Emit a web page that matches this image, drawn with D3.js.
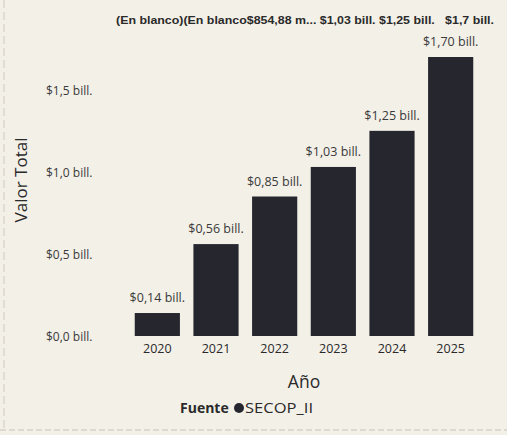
<!DOCTYPE html>
<html><head><meta charset="utf-8">
<script src="https://cdn.jsdelivr.net/npm/d3@7"></script>
<style>body{margin:0;background:#f3f0e8;}svg{display:block;}</style>
</head><body>
<svg id="c" width="507" height="435"></svg>
<script>
const years = ["2020","2021","2022","2023","2024","2025"];
const values = [0.14, 0.56, 0.85, 1.03, 1.25, 1.70];
const valueLabels = ["$0,14 bill.","$0,56 bill.","$0,85 bill.","$1,03 bill.","$1,25 bill.","$1,70 bill."];
const yTicks = [0, 0.5, 1.0, 1.5];
const yTickLabels = ["$0,0 bill.","$0,5 bill.","$1,0 bill.","$1,5 bill."];
const topLine = "(En blanco)(En blanco$854,88 m... $1,03 bill. $1,25 bill.   $1,7 bill.";
const legendName = "Fuente";
const legendItem = "SECOP_II";

const svg = d3.select("#c");
svg.append("rect").attr("width",507).attr("height",435).attr("fill","#f3f0e8");
svg.append("line").attr("x1",4).attr("x2",4).attr("y1",0).attr("y2",430).attr("stroke","#cfcabe").attr("stroke-width",1).attr("stroke-dasharray","8,4");
svg.append("line").attr("x1",0).attr("x2",507).attr("y1",430).attr("y2",430).attr("stroke","#c8c3b8").attr("stroke-dasharray","6,3");

const x = d3.scaleBand().domain(years).range([128,480]).paddingInner(0.23).paddingOuter(0.115);
const y = d3.scaleLinear().domain([0,1.70]).range([336,57]);

const font = "'Open Sans', 'Noto Sans', sans-serif";

svg.append("text").attr("x",116).attr("y",24).attr("font-family","Arial, 'Liberation Sans', sans-serif")
  .attr("font-size",10.5).attr("font-weight","bold").attr("fill","#2a2a2a")
  .attr("textLength",378).attr("lengthAdjust","spacingAndGlyphs").attr("xml:space","preserve")
  .text(topLine);

const yAxis = d3.axisLeft(y).tickValues(yTicks).tickFormat((d,i)=>yTickLabels[i]).tickSize(0);
const ga = svg.append("g").attr("transform","translate(46,0)").call(yAxis);
ga.select(".domain").remove();
ga.selectAll("text").attr("font-family",font).attr("font-size",12).attr("fill","#3a3a3a")
  .attr("text-anchor","start").attr("x",0).attr("dy","0.4em");

svg.selectAll("rect.bar").data(values).join("rect").attr("class","bar")
  .attr("x",(d,i)=>x(years[i])).attr("width",x.bandwidth())
  .attr("y",d=>y(d)).attr("height",d=>y(0)-y(d)).attr("fill","#26262f");

svg.selectAll("text.vl").data(values).join("text").attr("class","vl")
  .attr("x",(d,i)=>x(years[i])+x.bandwidth()/2).attr("y",d=>y(d)-11)
  .attr("text-anchor","middle").attr("font-family",font).attr("font-size",12.5).attr("fill","#3a3a3a")
  .text((d,i)=>valueLabels[i]);

const xAxis = d3.axisBottom(x).tickSize(0);
const gx = svg.append("g").attr("transform","translate(0,341)").call(xAxis);
gx.select(".domain").remove();
gx.selectAll("text").attr("font-family",font).attr("font-size",12.5).attr("fill","#2a2a2a");

svg.append("text").attr("x",(x.range()[0]+x.range()[1])/2).attr("y",388).attr("text-anchor","middle").attr("font-family",font)
  .attr("font-size",17.5).attr("fill","#2a2a2a").text("Año");
svg.append("text").attr("transform","translate(27,180) rotate(-90)").attr("text-anchor","middle")
  .attr("font-family",font).attr("font-size",17).attr("fill","#2a2a2a").text("Valor Total");

svg.append("text").attr("x",180).attr("y",413).attr("font-family",font).attr("font-size",14)
  .attr("font-weight","bold").attr("fill","#2a2a2a").text(legendName);
svg.append("circle").attr("cx",239).attr("cy",408).attr("r",5).attr("fill","#26262f");
svg.append("text").attr("x",245).attr("y",413).attr("font-family",font).attr("font-size",14.5)
  .attr("fill","#2a2a2a").attr("textLength",68).attr("lengthAdjust","spacingAndGlyphs").text(legendItem);
</script>
</body></html>
